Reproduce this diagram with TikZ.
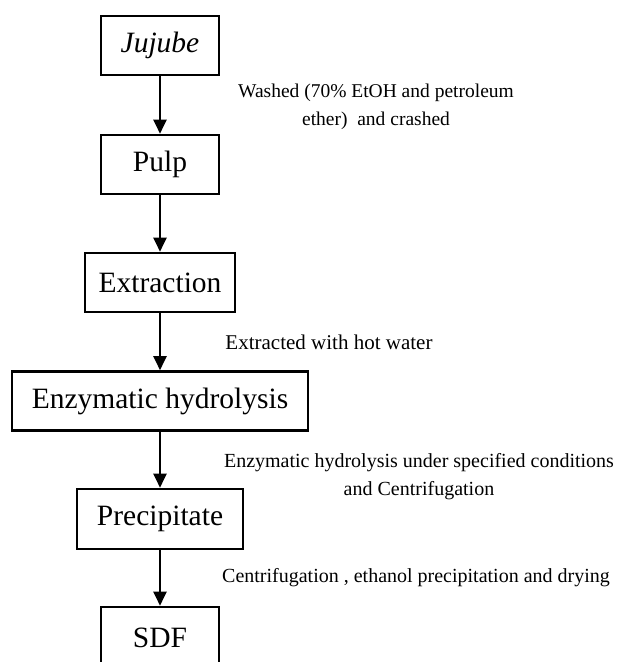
\documentclass[tikz,border=0pt]{standalone}
\usepackage{fontspec}
\setmainfont{Liberation Serif}
\usepackage{tikz}
\usetikzlibrary{arrows.meta,positioning}

\begin{document}
\begin{tikzpicture}[x=1pt, y=-1pt,
  stepbox/.style={draw, line width=2.6pt, inner sep=0pt,
    minimum height=59pt, font=\fontsize{29.5}{34}\selectfont},
  note/.style={align=center, font=\fontsize{20}{28}\selectfont},
  flow/.style={-{Triangle[length=14pt, width=13pt]}, line width=2pt}]

\useasboundingbox (0,0) rectangle (618,662);

% Boxes
\node[stepbox, minimum width=118pt] (jujube) at (160,45.5) {\itshape Jujube};
\node[stepbox, minimum width=118pt] (pulp) at (160,164.5) {Pulp};
\node[stepbox, minimum width=150pt] (extract) at (160,282.5) {Extraction};
\node[stepbox, minimum width=296pt] (enzyme) at (160,401) {Enzymatic hydrolysis};
\node[stepbox, minimum width=166pt, minimum height=60pt] (precip) at (160,519) {Precipitate};
\node[stepbox, minimum width=118pt, minimum height=62pt] (sdf) at (160,638) {SDF};

% Arrows
\draw[flow] (jujube) -- (pulp);
\draw[flow] (pulp) -- (extract);
\draw[flow] (extract) -- (enzyme);
\draw[flow] (enzyme) -- (precip);
\draw[flow] (precip) -- (sdf);

% Notes
\node[note, font=\fontsize{19.5}{28}\selectfont] (n1) at (376,107) {Washed (70\% EtOH and petroleum\\ether)\ \ and crashed};
\node[note, font=\fontsize{21}{28}\selectfont] (n2) at (329,342) {Extracted with hot water};
\node[note] (n3) at (419,477) {Enzymatic hydrolysis under specified conditions\\and Centrifugation};
\node[note] (n4) at (416,578) {Centrifugation , ethanol precipitation and drying};

\end{tikzpicture}
\end{document}
